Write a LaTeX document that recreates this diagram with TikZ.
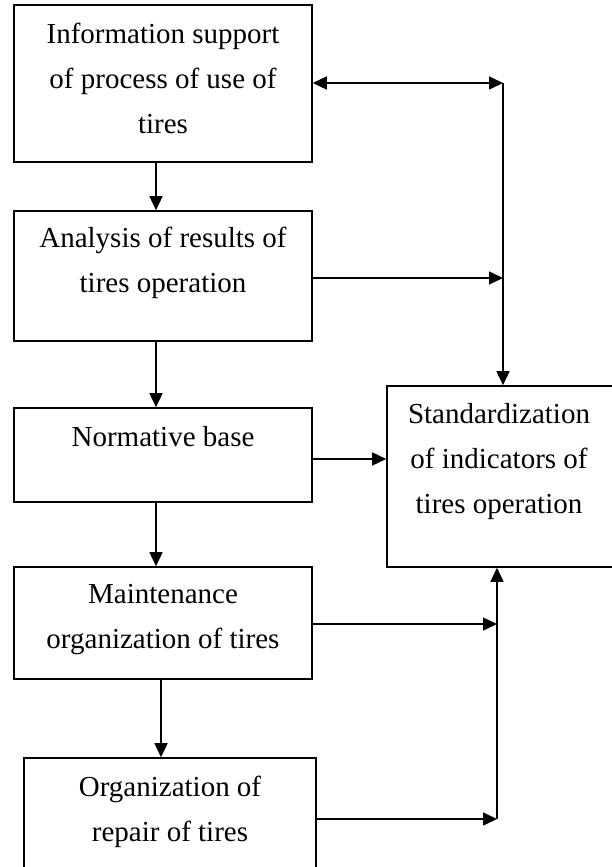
\documentclass[tikz,border=0pt]{standalone}
\usepackage{fontspec}
\setmainfont{Liberation Serif}
\usetikzlibrary{arrows.meta}
\begin{document}
\begin{tikzpicture}[x=1pt,y=-1pt,
  box/.style={draw=black,line width=1.6pt,rectangle,inner sep=0pt},
  txt/.style={inner sep=0pt,anchor=base,align=center,font=\fontsize{29}{45}\selectfont},
  arr/.style={line width=1.5pt,-{Triangle[length=14pt,width=13pt]}},
  arrb/.style={line width=1.5pt,{Triangle[length=14pt,width=13pt]}-{Triangle[length=14pt,width=13pt]}}]
\useasboundingbox (0,0) rectangle (611,867);
% boxes
\node[box,minimum width=298pt,minimum height=157pt] (b1) at (163,83.5) {};
\node[box,minimum width=298pt,minimum height=130pt] (b2) at (163,276) {};
\node[box,minimum width=298pt,minimum height=94pt] (b3) at (163,455) {};
\node[box,minimum width=298pt,minimum height=112pt] (b4) at (163,623) {};
\node[box,minimum width=292pt,minimum height=112pt] (b5) at (170,814) {};
\node[box,minimum width=228pt,minimum height=181pt] (b6) at (501,476.5) {};
% texts (anchor = baseline of last line)
\node[txt] (t1) at (163,133) {Information support\\of process of use of\\tires};
\node[txt] (t2) at (163,292) {Analysis of results of\\tires operation};
\node[txt] (t3) at (163,446) {Normative base};
\node[txt] (t4) at (163,648) {Maintenance\\organization of tires};
\node[txt] (t5) at (170,841) {Organization of\\repair of tires};
\node[txt] (t6) at (499,513) {Standardization\\of indicators of\\tires operation};
% junction coordinates
\coordinate (a1) at (156,0);
\coordinate (a4) at (161,0);
\coordinate (j1) at (503,83);
\coordinate (j2) at (503,278);
\coordinate (y3) at (0,459);
\coordinate (j4) at (497,624);
\coordinate (j5) at (497,819);
% vertical chain
\draw[arr] (b1.south -| a1) -- (b2.north -| a1);
\draw[arr] (b2.south -| a1) -- (b3.north -| a1);
\draw[arr] (b3.south -| a1) -- (b4.north -| a1);
\draw[arr] (b4.south -| a4) -- (b5.north -| a4);
% right side
\draw[arrb] (b1.east |- j1) -- (j1);
\draw[arr] (j1) -- (j1 |- b6.north);
\draw[arr] (b2.east |- j2) -- (j2);
\draw[arr] (b3.east |- y3) -- (b6.west |- y3);
\draw[arr] (b4.east |- j4) -- (j4);
\draw[arr] (b5.east |- j5) -- (j5);
\draw[arr] (j5) -- (j5 |- b6.south);
\end{tikzpicture}
\end{document}
